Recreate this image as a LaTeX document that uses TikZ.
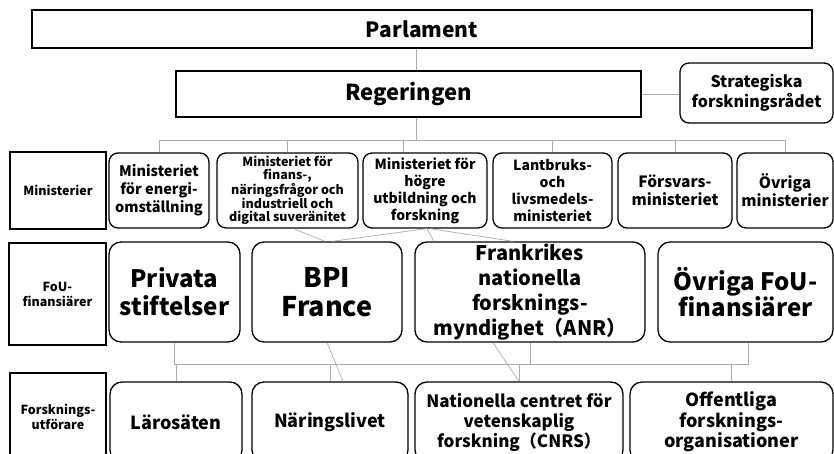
\documentclass[tikz,border=0pt]{standalone}
\usepackage{fontspec}
\setmainfont{Noto Sans CJK JP}
\tikzset{
  head/.style={draw, line width=1.3pt, inner sep=0pt, align=center, font=\bfseries},
  row/.style={draw, line width=1.3pt, rounded corners=9pt, inner sep=0pt, align=center, font=\bfseries},
  tag/.style={draw, line width=1.3pt, inner sep=0pt, align=center, font=\fontsize{12.5}{15}\selectfont\bfseries},
  link/.style={draw=gray!65, line width=0.7pt}
}
\begin{document}
\begin{tikzpicture}[x=1pt,y=-1pt]
\useasboundingbox (0,0) rectangle (834,454);
\begin{scope}
\clip (0,0) rectangle (834,454);
% top
\node[head, minimum width=780pt, minimum height=38pt, font=\fontsize{21}{24}\selectfont\bfseries] (par) at (422,29) {Parlament};
\node[head, minimum width=465pt, minimum height=46pt, font=\fontsize{22}{26}\selectfont\bfseries] (reg) at (408.5,94) {Regeringen};
\node[row, minimum width=153pt, minimum height=60pt, font=\fontsize{16}{20}\selectfont\bfseries] (srd) at (756.5,93) {Strategiska\\forskningsrådet};
% ministries
\node[tag, minimum width=96pt, minimum height=77pt] (mlab) at (58,190.5) {Ministerier};
\node[row, minimum width=100pt, minimum height=75pt, font=\fontsize{14.5}{18}\selectfont\bfseries] (m1) at (159,190.5) {Ministeriet\\för energi-\\omställning};
\node[row, minimum width=141pt, minimum height=75pt, font=\fontsize{12.5}{13.5}\selectfont\bfseries] (m2) at (287.5,190.5) {Ministeriet för\\finans-,\\näringsfrågor och\\industriell och\\digital suveränitet};
\node[row, minimum width=124pt, minimum height=75pt, font=\fontsize{14}{17}\selectfont\bfseries] (m3) at (425,190.5) {Ministeriet för\\högre\\utbildning och\\forskning};
\node[row, minimum width=119pt, minimum height=75pt, font=\fontsize{14}{17}\selectfont\bfseries] (m4) at (552.5,190.5) {Lantbruks-\\och\\livsmedels-\\ministeriet};
\node[row, minimum width=114pt, minimum height=75pt, font=\fontsize{15.5}{18}\selectfont\bfseries] (m5) at (675,190.5) {Försvars-\\ministeriet};
\node[row, minimum width=96pt, minimum height=75pt, font=\fontsize{15.5}{18}\selectfont\bfseries] (m6) at (785,190.5) {Övriga\\ministerier};
% funders
\node[tag, minimum width=97pt, minimum height=102pt] (flab) at (57.5,294) {FoU-\\finansiärer};
\node[row, rounded corners=12pt, minimum width=131pt, minimum height=100pt, font=\fontsize{24}{28}\selectfont\bfseries] (priv) at (174.5,292) {Privata\\stiftelser};
\node[row, rounded corners=12pt, minimum width=150pt, minimum height=100pt, font=\fontsize{27}{29}\selectfont\bfseries] (bpi) at (327,292) {BPI\\France};
\node[row, rounded corners=12pt, minimum width=230pt, minimum height=100pt, font=\fontsize{20}{25}\selectfont\bfseries] (anr) at (530,292) {Frankrikes\\nationella\\forsknings-\\myndighet（ANR）};
\node[row, rounded corners=12pt, minimum width=175pt, minimum height=100pt, font=\fontsize{24}{25}\selectfont\bfseries] (ovf) at (745.5,292) {Övriga FoU-\\finansiärer};
% performers
\node[tag, minimum width=96pt, minimum height=87pt] (plab) at (58,416.5) {Forsknings-\\utförare};
\node[row, rounded corners=12pt, minimum width=132pt, minimum height=80pt, font=\fontsize{18}{21}\selectfont\bfseries] (lar) at (176,422) {Lärosäten};
\node[row, rounded corners=12pt, minimum width=156pt, minimum height=80pt, font=\fontsize{18}{21}\selectfont\bfseries] (nar) at (330,422) {Näringslivet};
\node[row, rounded corners=12pt, minimum width=208pt, minimum height=80pt, font=\fontsize{17}{20}\selectfont\bfseries] (cnrs) at (519,422) {Nationella centret för\\vetenskaplig\\forskning（CNRS）};
\node[row, rounded corners=12pt, minimum width=203pt, minimum height=80pt, font=\fontsize{18}{20.5}\selectfont\bfseries] (off) at (731.5,422) {Offentliga\\forsknings-\\organisationer};
% connectors
\coordinate (trunk) at (416,140);
\coordinate (m3in) at (403,140);
\coordinate (fbus) at (0,364);
\draw[link] (par.south -| trunk) -- (reg.north -| trunk);
\draw[link] (reg.south -| trunk) -- (trunk);
\draw[link] (reg.east) -- (reg.east -| srd.west);
\draw[link] (m1.north |- trunk) -- (m6.north |- trunk);
\foreach \m in {m1,m2,m4,m5,m6}
  \draw[link] (\m.north |- trunk) -- (\m.north);
\draw[link] (m3in) -- (m3in |- m3.north);
\draw[link] ([xshift=6pt]m2.south) -- ([xshift=-2pt]bpi.north);
\draw[link] ([xshift=2pt]m3.south) -- ([xshift=5pt]bpi.north);
\draw[link] ([xshift=2pt]m3.south) -- ([xshift=-96pt]anr.north);
\draw[link] ([xshift=5pt]m3.south) -- ([xshift=-17pt]anr.north);
\draw[link] (priv.south) -- (priv.south |- fbus) -- ([xshift=3pt]ovf.south |- fbus) -- ([xshift=3pt]ovf.south);
\draw[link] (anr.south) -- (anr.south |- fbus);
\foreach \b in {lar,nar,cnrs,off}
  \draw[link] (\b.north |- fbus) -- (\b.north);
\draw[link] (bpi.south) -- ([xshift=13pt]nar.north);
\draw[link] ([xshift=-37pt]anr.south) -- (cnrs.north);
\end{scope}
\end{tikzpicture}
\end{document}
